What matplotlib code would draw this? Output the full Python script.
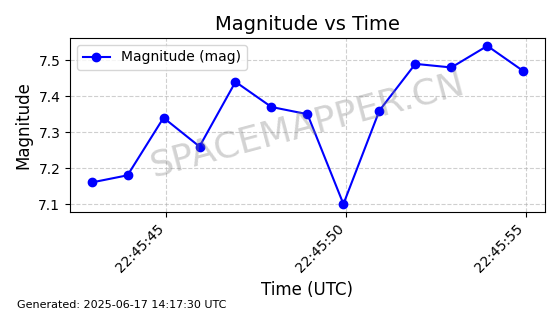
import matplotlib
matplotlib.use('Agg')
import matplotlib.pyplot as plt
import matplotlib.dates as mdates
import pandas as pd

# magnitude readings, one per second
times = pd.to_datetime([
    '2025-06-16 22:45:42.92', '2025-06-16 22:45:43.92', '2025-06-16 22:45:44.92',
    '2025-06-16 22:45:45.92', '2025-06-16 22:45:46.92', '2025-06-16 22:45:47.92',
    '2025-06-16 22:45:48.92', '2025-06-16 22:45:49.92', '2025-06-16 22:45:50.92',
    '2025-06-16 22:45:51.92', '2025-06-16 22:45:52.92', '2025-06-16 22:45:53.92',
    '2025-06-16 22:45:54.92',
])
magnitudes = [7.16, 7.18, 7.34, 7.26, 7.44, 7.37, 7.35,
              7.10, 7.36, 7.49, 7.48, 7.54, 7.47]
tick_times = pd.to_datetime(['2025-06-16 22:45:45', '2025-06-16 22:45:50',
                             '2025-06-16 22:45:55'])
yticks = [7.1, 7.2, 7.3, 7.4, 7.5]

fig, ax = plt.subplots(figsize=(5.6, 3.14), dpi=100)
fig.subplots_adjust(left=0.125, right=0.973, top=0.879, bottom=0.325)

ax.plot(times, magnitudes, marker='o', color='blue', label='Magnitude (mag)')
ax.set_title('Magnitude vs Time', fontsize=14)
ax.set_xlabel('Time (UTC)', fontsize=12)
ax.set_ylabel('Magnitude', fontsize=12)
ax.set_xticks(tick_times)
ax.set_yticks(yticks)
ax.xaxis.set_major_formatter(mdates.DateFormatter('%H:%M:%S'))
plt.setp(ax.get_xticklabels(), rotation=45, ha='right')
ax.grid(True, linestyle='--', alpha=0.6)
ax.legend(loc='upper left')

# watermark
ax.text(0.5, 0.5, 'SPACEMAPPER.CN', transform=ax.transAxes, fontsize=26,
        color='gray', alpha=0.35, rotation=15, ha='center', va='center')

fig.text(0.03, 0.02, 'Generated: 2025-06-17 14:17:30 UTC', fontsize=8)

fig.savefig('out.png', dpi=100)
